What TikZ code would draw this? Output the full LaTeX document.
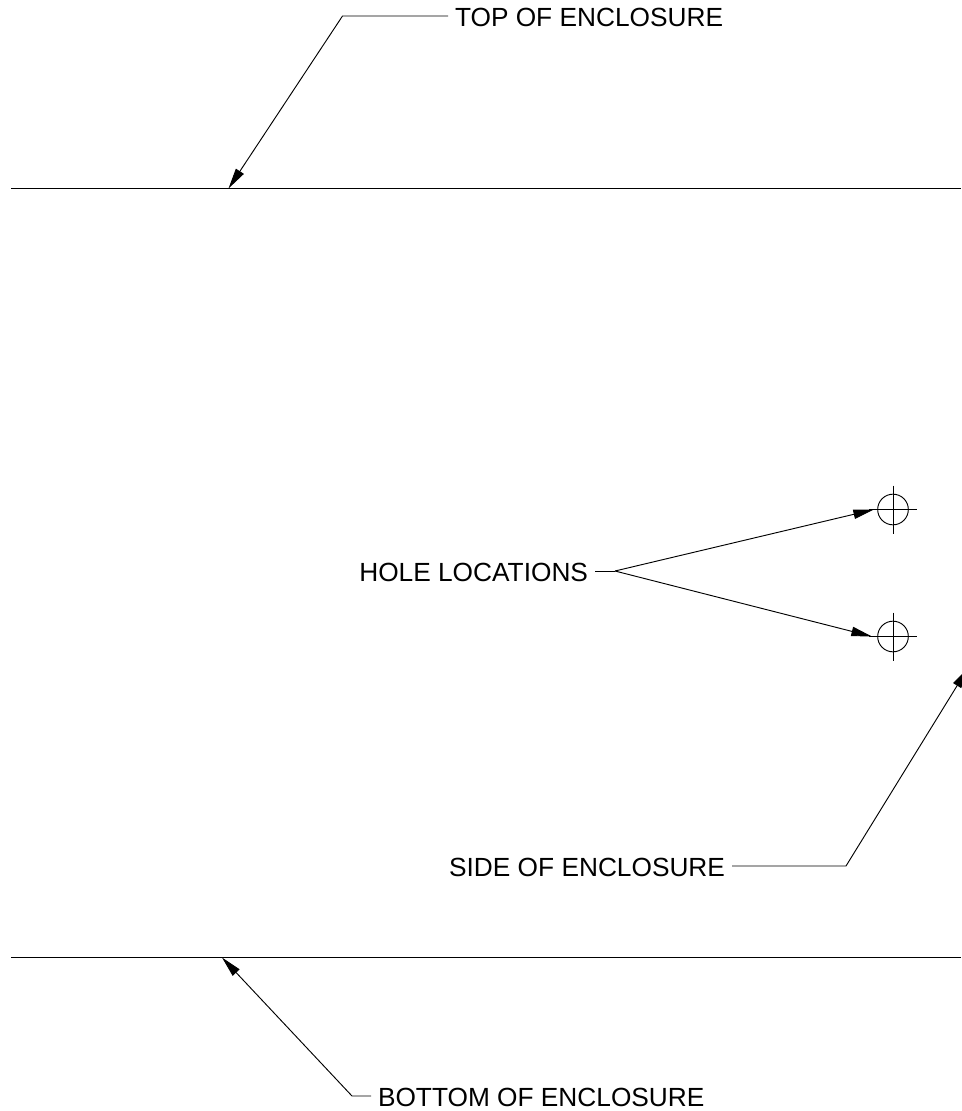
\documentclass[tikz,border=0pt]{standalone}
\usepackage{fontspec}
\setmainfont{Liberation Sans}
\usetikzlibrary{arrows.meta}
\tikzset{
  ln/.style={line width=0.7pt,black},
  lead/.style={ln,-{Triangle[length=15.5pt,width=7pt]}},
  lbl/.style={inner xsep=5.25pt,inner ysep=0pt,outer sep=0pt,text height=15.2pt,text depth=0pt,font=\fontsize{19.7pt}{22pt}\selectfont},
  hole/.style={circle,draw,line width=0.7pt,minimum size=23pt,inner sep=0pt,outer sep=0pt}
}
\begin{document}
\begin{tikzpicture}[x=0.75pt,y=-0.75pt]
\useasboundingbox (0,0) rectangle (961,1111);
% enclosure edges
\coordinate (tl) at (11,188.5);
\coordinate (tr) at (961,188.5);
\coordinate (bl) at (11,957.5);
\coordinate (br) at (961,957.5);
\draw[ln] (tl) -- (tr);
\draw[ln] (bl) -- (br);
% labels
\node[lbl,anchor=west] (top) at (448,16) {TOP OF ENCLOSURE};
\node[lbl,anchor=east] (holes) at (595,571) {HOLE LOCATIONS};
\node[lbl,anchor=east] (side) at (732,866) {SIDE OF ENCLOSURE};
\node[lbl,anchor=west] (bottom) at (371,1096) {BOTTOM OF ENCLOSURE};
% leader points
\coordinate (topknee) at (342.5,16);
\coordinate (toptip) at (228.5,188.5);
\coordinate (botknee) at (352,1096);
\coordinate (bottip) at (222,957.5);
\coordinate (holeknee) at (615,571);
\coordinate (h1tip) at (874,509.5);
\coordinate (h2tip) at (872,636.5);
\coordinate (sideknee) at (846,866);
\coordinate (sidetip) at (968,668);
% holes
\node[hole] (h1) at (893,509.5) {};
\node[hole] (h2) at (893,636.5) {};
\foreach \h in {h1,h2}{
  \draw[ln] (\h.center) ++(-24,0) -- ++(48,0);
  \draw[ln] (\h.center) ++(0,-24) -- ++(0,48);
}
% leaders
\draw[lead] (top.west) -- (topknee) -- (toptip);
\draw[lead] (bottom.west) -- (botknee) -- (bottip);
\draw[ln] (holes.east) -- (holeknee);
\draw[lead] (holeknee) -- (h1tip);
\draw[lead] (holeknee) -- (h2tip);
\draw[lead] (side.east) -- (sideknee) -- (sidetip);
\end{tikzpicture}
\end{document}
